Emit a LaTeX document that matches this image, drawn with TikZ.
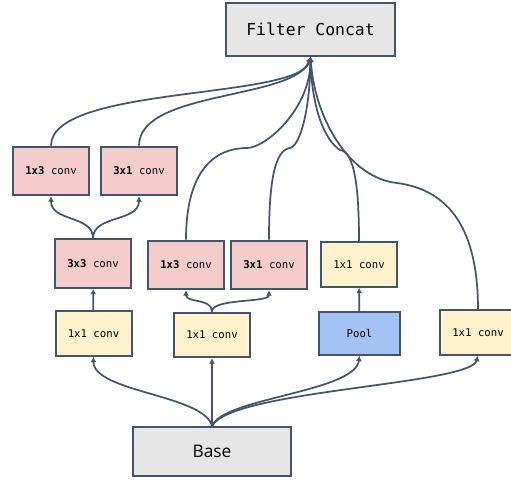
\documentclass[tikz,border=0pt]{standalone}
\usepackage{fontspec}
\setmainfont{Open Sans}
\setmonofont{DejaVu Sans Mono}
\usetikzlibrary{arrows.meta}
\definecolor{LineSlate}{RGB}{68,84,106}
\definecolor{ConvPink}{RGB}{244,204,204}
\definecolor{ConvYellow}{RGB}{255,242,204}
\definecolor{PoolBlue}{RGB}{164,194,244}
\definecolor{BoxGray}{RGB}{230,230,230}

\tikzset{
  box/.style={draw=LineSlate,line width=1.5pt,inner sep=0pt,font=\ttfamily\fontsize{8}{10}\selectfont},
  pinkbox/.style={box,fill=ConvPink,minimum width=57pt,minimum height=36.5pt},
  yellowbox/.style={box,fill=ConvYellow,minimum width=57pt,minimum height=33.5pt},
  poolbox/.style={box,fill=PoolBlue,minimum width=60.5pt,minimum height=32pt},
  graybox/.style={box,fill=BoxGray},
  link/.style={draw=LineSlate,line width=1.3pt,-{Latex[length=4pt,width=4.5pt]}}
}

\begin{document}
\begin{tikzpicture}[x=0.75pt,y=-0.75pt]
\useasboundingbox (0,0) rectangle (511,480);
% top and bottom
\node[graybox,minimum width=126.5pt,minimum height=39.5pt,font=\ttfamily\fontsize{12.3}{14}\selectfont] (concat) at (310.5,29.5) {Filter Concat};
\node[graybox,minimum width=118pt,minimum height=36.5pt,font=\fontsize{13}{15}\selectfont] (base) at (212,451.5) {Base};
% branch 1
\node[yellowbox] (c11a) at (93.5,333.5) {1x1 conv};
\node[pinkbox] (c33) at (93,263.5) {\textbf{3x3} conv};
\node[pinkbox] (c13a) at (51,171) {\textbf{1x3} conv};
\node[pinkbox] (c31a) at (139,171) {\textbf{3x1} conv};
% branch 2
\node[yellowbox] (c11b) at (212,335) {1x1 conv};
\node[pinkbox] (c13b) at (186,265) {\textbf{1x3} conv};
\node[pinkbox] (c31b) at (269,265) {\textbf{3x1} conv};
% branch 3
\node[poolbox] (pool) at (359.5,333.5) {Pool};
\node[yellowbox] (c11c) at (359,264.5) {1x1 conv};
% branch 4
\node[yellowbox] (c11d) at (478,332.5) {1x1 conv};

% from base
\draw[link] (base.north) .. controls (205,395) and (93,392) .. (c11a.south);
\draw[link] (base.north) -- (c11b.south);
\draw[link] (base.north) .. controls (222,398) and (355,392) .. (pool.south);
\draw[link] (base.north) .. controls (230,390) and (470,385) .. (c11d.south);
% inside branches
\draw[link] (c11a) -- (c33);
\draw[link] (c33.north) .. controls (93,215) and (51,222) .. (c13a.south);
\draw[link] (c33.north) .. controls (93,215) and (139,222) .. (c31a.south);
\draw[link] (c11b.north) .. controls (212,298) and (186,303) .. (c13b.south);
\draw[link] (c11b.north) .. controls (212,298) and (269,303) .. (c31b.south);
\draw[link] (pool) -- (c11c);
% into concat
\draw[link] (c13a.north) .. controls (51,85) and (300,100) .. (concat.south);
\draw[link] (c31a.north) .. controls (139,90) and (295,100) .. (concat.south);
\draw[link] (c13b.north) .. controls (186,170) and (215,148) .. (247,148)
  .. controls (265,148) and (310,110) .. (concat.south);
\draw[link] (c31b.north) .. controls (269,180) and (275,150) .. (290,148)
  .. controls (300,146) and (310,110) .. (concat.south);
\draw[link] (c11c.north) .. controls (359,190) and (355,152) .. (340,150)
  .. controls (325,140) and (312,110) .. (concat.south);
\draw[link] (c11d.north) .. controls (478,230) and (450,190) .. (397,183)
  .. controls (350,178) and (315,120) .. (concat.south);
\end{tikzpicture}
\end{document}
